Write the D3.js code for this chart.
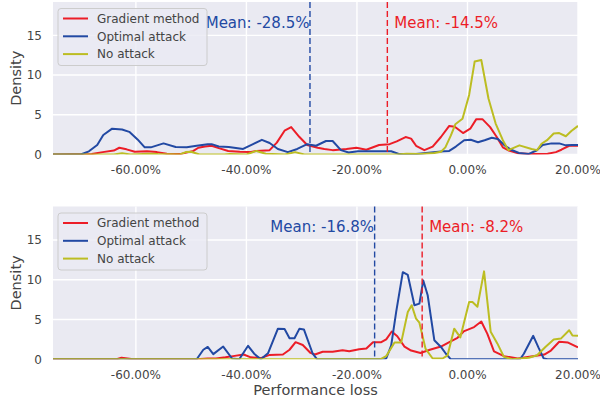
<!DOCTYPE html>
<html>
<head>
<meta charset="utf-8">
<script src="https://cdn.jsdelivr.net/npm/d3@7"></script>
<style>
  body { margin: 0; background: #fff; }
  text { font-family: "DejaVu Sans", sans-serif; }
</style>
</head>
<body>
<script>
// ticks / labels
const xTicks = [-60, -40, -20, 0, 20];
const yTicks = [0, 5, 10, 15];
const seriesNames = ["Gradient method", "Optimal attack", "No attack"];
const seriesColors = ["#ec1d27", "#2249a3", "#bcbd22"];

// [performance loss %, density]
const topGradient = [[-75,0],[-68,0.05],[-66,0.3],[-64,0.5],[-63,0.85],[-61.7,0.65],[-60.2,0.35],[-58,0.4],[-56.2,0.3],[-54.4,0.1],[-52,0.05],[-50.5,0.3],[-49.6,0.45],[-48.7,0.85],[-47.5,1.0],[-46.3,1.1],[-45,0.8],[-43.3,0.45],[-41.2,0.35],[-39.4,0.3],[-38.2,0.45],[-35.8,0.55],[-34.5,1.5],[-33.1,3.0],[-31.9,3.45],[-30.4,2.2],[-29,1.2],[-27.1,0.85],[-25.9,0.7],[-24.4,0.55],[-21.9,0.7],[-20.1,0.85],[-18.3,0.6],[-16,1.2],[-14.1,1.3],[-12.8,1.65],[-11.2,2.2],[-10.2,2.0],[-9.3,1.1],[-7.8,0.55],[-6.3,1.0],[-4.8,2.2],[-3.3,3.6],[-2.3,3.5],[-0.8,2.7],[0.5,3.25],[1.6,4.45],[2.7,4.45],[4.1,3.45],[5.3,2.2],[6.4,0.9],[7.5,0.5],[9.2,0.15],[11.5,0.05],[14.5,0.1],[16,0.3],[17,0.6],[18.4,1.1],[20,1.1]];
const topOptimal = [[-75,0],[-70,0],[-68.5,0.4],[-67,1.2],[-65.9,2.45],[-64.3,3.25],[-62.5,3.15],[-61.2,2.85],[-59.7,1.9],[-58.4,0.9],[-57.3,0.9],[-55,1.4],[-52.8,0.95],[-50.8,0.9],[-49,1.1],[-47,1.3],[-46.3,1.3],[-45,1.0],[-43.2,0.95],[-40.6,0.7],[-38.8,1.3],[-37.2,1.85],[-35.8,1.45],[-34.3,0.7],[-32.5,0.3],[-30.8,0.7],[-29,1.3],[-27.4,1.1],[-25.6,1.7],[-24.4,1.7],[-22.9,0.55],[-21.5,0.25],[-19.8,0.4],[-16,0.4],[-13.8,0.4],[-12.3,0.05],[-9.3,0.05],[-6.6,0.25],[-4.3,0.4],[-3.3,0.45],[-2.1,1.0],[-0.6,1.8],[0.6,1.85],[1.9,1.55],[3.1,1.8],[4.4,2.1],[5.5,1.95],[6.8,1.1],[7.9,0.6],[9.3,0.2],[11,0.05],[12.5,0.5],[13.6,1.2],[15.2,1.4],[16.6,1.4],[17.8,1.15],[19,1.2],[20,1.2]];
const topNoAttack = [[-75,0],[-64,0],[-62.5,0.15],[-61,0],[-57.5,0.1],[-56,0.05],[-52,0],[-51,0.3],[-50,0.35],[-48.5,0],[-44,0],[-43,0.05],[-40,0],[-38.2,0.45],[-36.5,0.1],[-33,0],[-31.2,0.3],[-29.5,0],[-12.8,0],[-11,0.1],[-8.5,0.05],[-6,0.2],[-4.8,0.35],[-4,0.9],[-3,2.4],[-2.2,3.8],[-0.9,4.5],[0.3,7.5],[1.3,11.7],[2.5,11.9],[3.8,7.05],[5.1,3.9],[6.4,1.8],[7.4,0.55],[9.4,1.15],[11.6,0.7],[12.6,0.55],[13.4,1.35],[14.4,1.8],[15.6,2.65],[16.6,2.7],[17.8,2.3],[18.8,2.95],[20,3.6]];

const bottomGradient = [[-75,0],[-63.5,0],[-62.6,0.2],[-61.5,0.1],[-60.5,0],[-49,0],[-47,0.1],[-45.5,0.1],[-43.8,0.25],[-42.4,0.4],[-40.5,0.6],[-39.2,0.25],[-37.4,0.15],[-35.8,0.55],[-33.4,0.6],[-32.2,1.2],[-31.1,2.15],[-29.8,1.8],[-28.4,0.8],[-27.6,0.6],[-26.2,0.95],[-24.4,0.95],[-22.6,1.15],[-21.4,1.0],[-19.6,1.25],[-18.3,1.35],[-17.1,2.15],[-15.6,2.15],[-14.7,2.5],[-13.7,3.5],[-12.7,2.9],[-11.4,1.6],[-10.2,1.1],[-8.5,0.8],[-6.8,1.2],[-4.8,1.6],[-3.2,2.2],[-1.8,2.7],[-0.7,3.5],[1.2,4.05],[2.5,4.75],[3.6,3.2],[4.8,1.0],[6.6,0.4],[9.1,0.1],[11.5,0.35],[13.9,0.6],[15.1,1.1],[16.6,2.2],[18.2,2.1],[20,1.5]];
const bottomOptimal = [[-75,0],[-49,0],[-47.8,1.2],[-47,1.55],[-46,0.65],[-44.2,1.6],[-42.6,0.1],[-41.3,0],[-39.7,1.7],[-38.6,0.7],[-37.4,0],[-36.1,0.75],[-34.3,3.85],[-33.1,3.8],[-32.2,2.65],[-31.3,2.65],[-30.4,3.85],[-29.6,3.75],[-28,0.7],[-27.2,0],[-15,0],[-14.7,0.1],[-13.8,1.75],[-12.9,5.95],[-11.7,10.95],[-10.8,10.6],[-9.6,6.8],[-8.7,7.0],[-8,9.9],[-7.2,8.05],[-6,2.4],[-4.8,1.55],[-3.9,0.7],[-3,0],[9.5,0],[10.2,0.7],[11.9,2.95],[12.9,1.4],[13.8,0.1],[14.5,0],[20,0]];
const bottomNoAttack = [[-75,0],[-15.8,0],[-14.7,0.4],[-13.2,2.1],[-12,2.1],[-10.8,5.95],[-10.1,6.8],[-9.3,5.1],[-8.7,4.6],[-7.6,1.35],[-6.3,0.1],[-4.5,0.1],[-3.6,0.5],[-2.4,3.85],[-1.3,2.75],[0.3,7.2],[0.9,7.2],[1.8,6.6],[3,11.05],[4.2,3.45],[5.4,2.0],[6.6,0.3],[8.1,0],[9.6,0.1],[11.1,0.2],[12.6,0.5],[14.1,1.55],[15.6,2.5],[16.9,2.6],[18.4,3.65],[19,3.0],[20,2.95]];

// means: [gradient, optimal]
const topMeans = [-14.5, -28.5];
const bottomMeans = [-8.2, -16.8];

const W = 600, H = 400;
const svg = d3.select("body").append("svg").attr("width", W).attr("height", H);

const x = d3.scaleLinear().domain([-75, 20]).range([53, 578]);

function drawPanel(id, top, bottom, data, means, withXLabel) {
    const y = d3.scaleLinear().domain([0, 19.2]).range([bottom, top]);
    const g = svg.append("g");

    g.append("clipPath").attr("id", id)
        .append("rect").attr("x", 53).attr("y", top).attr("width", 525).attr("height", bottom - top);

    g.append("rect").attr("x", 53).attr("y", top).attr("width", 525).attr("height", bottom - top)
        .attr("fill", "#eaeaf2");

    // grid
    g.selectAll(".vg").data(xTicks).enter().append("line")
        .attr("x1", d => x(d)).attr("x2", d => x(d)).attr("y1", top).attr("y2", bottom)
        .attr("stroke", "#fff").attr("stroke-width", 1.4);
    g.selectAll(".hg").data(yTicks).enter().append("line")
        .attr("x1", 53).attr("x2", 578).attr("y1", d => y(d)).attr("y2", d => y(d))
        .attr("stroke", "#fff").attr("stroke-width", 1.4);

    // tick labels
    g.selectAll(".xt").data(xTicks).enter().append("text")
        .attr("x", d => x(d)).attr("y", bottom + 19.5)
        .attr("text-anchor", "middle").attr("font-size", 12).attr("fill", "#444")
        .text(d => d.toFixed(2) + "%");
    g.selectAll(".yt").data(yTicks).enter().append("text")
        .attr("x", 42).attr("y", d => y(d) + 4.3)
        .attr("text-anchor", "end").attr("font-size", 12).attr("fill", "#444")
        .text(d => d);

    g.append("text")
        .attr("transform", "translate(21," + ((top + bottom) / 2) + ") rotate(-90)")
        .attr("text-anchor", "middle").attr("font-size", 14.5).attr("fill", "#444")
        .text("Density");

    // lines
    const line = d3.line().x(d => x(d[0])).y(d => y(d[1]));
    const lines = g.append("g").attr("clip-path", "url(#" + id + ")");
    data.forEach((s, i) => {
        lines.append("path").datum(s)
            .attr("d", line).attr("fill", "none")
            .attr("stroke", seriesColors[i]).attr("stroke-width", 2)
            .attr("stroke-linejoin", "round");
    });

    // mean lines
    means.forEach((m, i) => {
        g.append("line")
            .attr("x1", x(m)).attr("x2", x(m)).attr("y1", top).attr("y2", bottom)
            .attr("stroke", seriesColors[i]).attr("stroke-width", 1.4)
            .attr("stroke-dasharray", "6,3");
    });
    g.append("text")
        .attr("x", x(means[0]) + 7).attr("y", top + 25.5)
        .attr("font-size", 15).attr("fill", seriesColors[0])
        .text("Mean: " + means[0].toFixed(1) + "%");
    g.append("text")
        .attr("x", x(means[1]) - 0.5).attr("y", top + 25.5)
        .attr("text-anchor", "end").attr("font-size", 15).attr("fill", seriesColors[1])
        .text("Mean: " + means[1].toFixed(1) + "%");

    // legend
    const lg = g.append("g").attr("transform", "translate(58," + (top + 6.5) + ")");
    lg.append("rect").attr("width", 149).attr("height", 57).attr("rx", 3)
        .attr("fill", "#eaeaf2").attr("fill-opacity", 0.8)
        .attr("stroke", "#cccccc").attr("stroke-width", 1);
    seriesNames.forEach((n, i) => {
        const ry = 10 + i * 17.8;
        lg.append("line").attr("x1", 5).attr("x2", 30).attr("y1", ry).attr("y2", ry)
            .attr("stroke", seriesColors[i]).attr("stroke-width", 2);
        lg.append("text").attr("x", 39).attr("y", ry + 4.3)
            .attr("font-size", 12).attr("fill", "#444").text(n);
    });

    if (withXLabel) {
        svg.append("text")
            .attr("x", (53 + 578) / 2).attr("y", 394.5)
            .attr("text-anchor", "middle").attr("font-size", 14.5).attr("fill", "#444")
            .text("Performance loss");
    }
}

drawPanel("clipTop", 2, 154.5, [topGradient, topOptimal, topNoAttack], topMeans, false);
drawPanel("clipBottom", 206.5, 359.3, [bottomGradient, bottomOptimal, bottomNoAttack], bottomMeans, true);
</script>
</body>
</html>
